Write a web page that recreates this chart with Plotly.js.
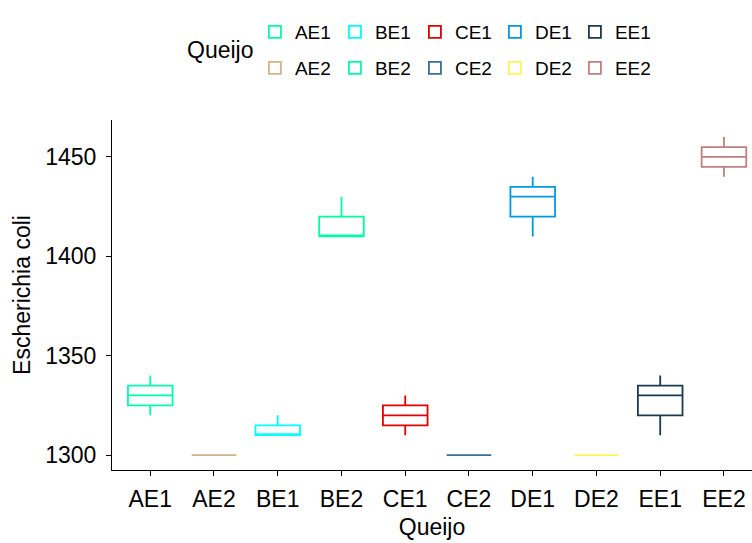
<!DOCTYPE html>
<html>
<head>
<meta charset="utf-8">
<script src="https://cdn.plot.ly/plotly-3.0.1.min.js"></script>
<style>body{margin:0;padding:0;background:#fff}#chart{width:752px;height:543px}</style>
</head>
<body>
<div id="chart"></div>
<script>
const categories = ["AE1","AE2","BE1","BE2","CE1","CE2","DE1","DE2","EE1","EE2"];
const lowerWhisker = [1320, 1300, 1310, 1410, 1310, 1300, 1410, 1300, 1310, 1440];
const q1Values     = [1325, 1300, 1310, 1410, 1315, 1300, 1420, 1300, 1320, 1445];
const medianValues = [1330, 1300, 1310, 1410, 1320, 1300, 1430, 1300, 1330, 1450];
const q3Values     = [1335, 1300, 1315, 1420, 1325, 1300, 1435, 1300, 1335, 1455];
const upperWhisker = [1340, 1300, 1320, 1430, 1330, 1300, 1440, 1300, 1340, 1460];
const yTicks = [1300, 1350, 1400, 1450];
const legendRow = ["legend","legend2","legend","legend2","legend","legend2","legend","legend2","legend","legend2"];
const colors = ["#00FFAA","#D2B48C","#00FFFF","#00FFA0","#E00000","#3A6E94","#009ADE","#FFF55A","#1B3A4B","#C08081"];

const traces = categories.map((c, i) => ({
  type: "box",
  name: c,
  x: [c],
  q1: [q1Values[i]],
  median: [medianValues[i]],
  q3: [q3Values[i]],
  lowerfence: [lowerWhisker[i]],
  upperfence: [upperWhisker[i]],
  width: 0.7,
  whiskerwidth: 0,
  fillcolor: "rgba(255,255,255,0)",
  line: {color: colors[i], width: 1.8},
  legend: legendRow[i],
  hoverinfo: "skip"
}));

const fam = "Liberation Sans, Arial, sans-serif";
const tickFont = {family: fam, size: 23, color: "#000"};
const titleFont = {family: fam, size: 23, color: "#000"};
const legFont = {family: fam, size: 19, color: "#000"};

const legendBase = {
  orientation: "h",
  xanchor: "left",
  yanchor: "middle",
  entrywidth: 35,
  font: legFont,
  bgcolor: "rgba(0,0,0,0)"
};

const layout = {
  width: 752, height: 543,
  margin: {l: 112, r: 0, t: 120, b: 73},
  paper_bgcolor: "#fff", plot_bgcolor: "#fff",
  font: tickFont,
  showlegend: true,
  xaxis: {
    type: "category",
    categoryorder: "array", categoryarray: categories,
    range: [-0.6, 9.44],
    showline: true, linecolor: "#000", linewidth: 1,
    ticks: "outside", ticklen: 5, tickcolor: "#000", tickwidth: 1,
    ticklabelstandoff: 3,
    showgrid: false, zeroline: false,
    tickfont: tickFont,
    title: {text: "Queijo", font: titleFont, standoff: 8}
  },
  yaxis: {
    range: [1292.5, 1468.6],
    tickvals: yTicks,
    showline: true, linecolor: "#000", linewidth: 1,
    ticks: "outside", ticklen: 5, tickcolor: "#000", tickwidth: 1,
    ticklabelstandoff: 5,
    showgrid: false, zeroline: false,
    tickfont: tickFont,
    title: {text: "Escherichia coli", font: titleFont, standoff: 8}
  },
  legend: Object.assign({}, legendBase, {x: 0.2233, y: 1.2514}),
  legend2: Object.assign({}, legendBase, {x: 0.2233, y: 1.1486}),
  annotations: [{
    text: "Queijo", xref: "paper", yref: "paper",
    x: 0.114, y: 1.2, xanchor: "left", yanchor: "middle",
    showarrow: false, font: titleFont
  }]
};

Plotly.newPlot("chart", traces, layout, {displayModeBar: false});
</script>
</body>
</html>
